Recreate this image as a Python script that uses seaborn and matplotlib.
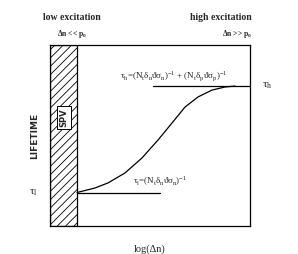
import numpy as np
import pandas as pd
import matplotlib
matplotlib.use("Agg")
import matplotlib.pyplot as plt
import seaborn as sns
from matplotlib.patches import Rectangle

# curve, in box units (0..10)
log_dn = [1.35, 2.25, 2.9, 3.75, 4.6, 5.4, 6.1, 6.75, 7.4, 8.1, 8.75, 9.25]
lifetime = [1.85, 2.1, 2.38, 2.93, 3.76, 4.75, 5.69, 6.57, 7.13, 7.51, 7.68, 7.73]

tau_l = 1.82
tau_h = 7.73
spv_edge = 1.35
tau_l_end = 5.5
tau_h_start = 5.15

sns.set_style("white")
plt.rcParams["font.family"] = ["Liberation Serif", "DejaVu Serif"]
plt.rcParams["hatch.linewidth"] = 0.6

fig = plt.figure(figsize=(2.98, 2.54), dpi=100)
ax = fig.add_axes([50 / 298, 1 - 226 / 254, 200 / 298, 181 / 254])

df = pd.DataFrame({"x": log_dn, "y": lifetime})
sns.lineplot(data=df, x="x", y="y", ax=ax, color="black", linewidth=0.9)

# SPV hatched strip
ax.add_patch(Rectangle((0, 0), spv_edge, 10, facecolor="white",
                       edgecolor="black", hatch="////", linewidth=0.9))
ax.text(spv_edge / 2, 6.0, "SPV", rotation=90, ha="center", va="center",
        fontsize=6, fontweight="bold", family=["DejaVu Sans"],
        bbox=dict(boxstyle="square,pad=0.3", fc="white", ec="black", lw=0.7))

ax.plot([spv_edge, tau_l_end], [tau_l, tau_l], color="black", lw=0.9)
ax.plot([tau_h_start, 10], [tau_h, tau_h], color="black", lw=0.9)

ax.set_xlim(0, 10)
ax.set_ylim(0, 10)
ax.set_xticks([])
ax.set_yticks([])
ax.set_xlabel("log(Δn)", fontsize=7.5, labelpad=13)
ax.set_ylabel("LIFETIME", fontsize=6.5, fontweight="bold", labelpad=8,
              family=["DejaVu Sans"])
for s in ax.spines.values():
    s.set_color("black")
    s.set_linewidth(0.9)

ax.text(-0.6, tau_l, "τ$_\\mathregular{l}$", ha="right", va="center", fontsize=8)
ax.text(10.6, tau_h, "τ$_\\mathregular{h}$", ha="left", va="center", fontsize=8)
ax.text(3.5, 8.3, "τ$_\\mathregular{h}$=(N$_\\mathregular{t}$δ$_\\mathregular{n}$ϑσ$_\\mathregular{n}$)$^\\mathregular{-1}$"
        " + (N$_\\mathregular{t}$δ$_\\mathregular{p}$ϑσ$_\\mathregular{p}$)$^\\mathregular{-1}$",
        ha="left", va="center", fontsize=6.5)
ax.text(4.15, 2.45, "τ$_\\mathregular{l}$=(N$_\\mathregular{t}$δ$_\\mathregular{n}$ϑσ$_\\mathregular{n}$)$^\\mathregular{-1}$",
        ha="left", va="center", fontsize=6.5)

fig.text(43 / 298, 1 - 17 / 254, "low excitation", ha="left", va="center",
         fontsize=7, fontweight="bold")
fig.text(57 / 298, 1 - 34 / 254, "Δn << p$_\\mathregular{0}$", ha="left",
         va="center", fontsize=5.5, fontweight="bold")
fig.text(252 / 298, 1 - 17 / 254, "high excitation", ha="right", va="center",
         fontsize=7, fontweight="bold")
fig.text(252 / 298, 1 - 34 / 254, "Δn >> p$_\\mathregular{0}$", ha="right",
         va="center", fontsize=5.5, fontweight="bold")

fig.savefig("out.png", dpi=100)
